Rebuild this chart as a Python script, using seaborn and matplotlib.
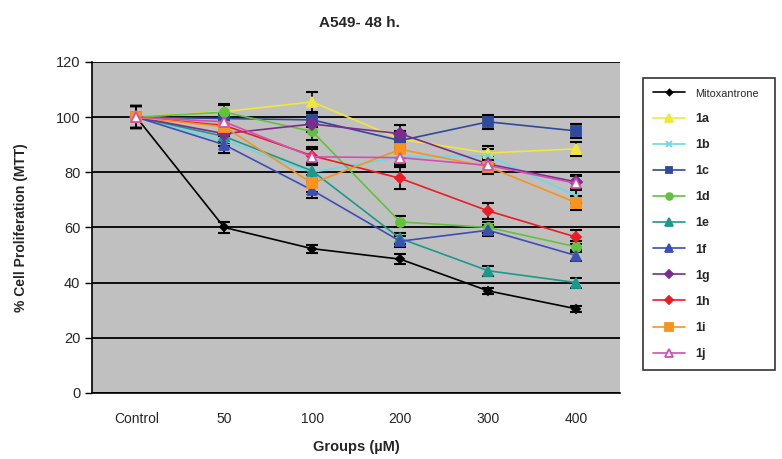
import numpy as np
import pandas as pd
import matplotlib
matplotlib.use("Agg")
import matplotlib.pyplot as plt
import seaborn as sns

groups = ["Control", "50", "100", "200", "300", "400"]

names = ["Mitoxantrone", "1a", "1b", "1c", "1d", "1e", "1f", "1g", "1h", "1i", "1j"]

mito = [100, 60, 52.3, 48.5, 37, 30.5]
c1a = [100, 102, 105.5, 92, 87, 88.5]
c1b = [100, 91.5, 80, 85.5, 86, 71.5]
c1c = [100, 99.5, 99, 91.5, 98.3, 95]
c1d = [100, 101.8, 94.8, 62, 60, 53]
c1e = [100, 93, 80.5, 56, 44.3, 40]
c1f = [100, 90, 73.5, 55, 59, 49.8]
c1g = [100, 94, 97.5, 94, 83, 76.5]
c1h = [100, 97, 86, 77.8, 66, 56.5]
c1i = [100, 96.5, 76, 88.3, 82, 69]
c1j = [100, 98.3, 85.6, 85.3, 82.5, 76]

err_mito = [4, 2, 1.5, 1.8, 1.2, 1]
err_1a = [4, 2.5, 3.5, 3, 2.5, 2.5]
err_1b = [4, 2, 3, 2.5, 2.5, 2.5]
err_1c = [4, 2, 2.5, 2.5, 2.5, 2.5]
err_1d = [4, 3, 3, 2, 2, 2]
err_1e = [4, 2.5, 3, 2, 1.8, 1.8]
err_1f = [4, 3, 3, 2, 2, 2]
err_1g = [4, 3, 3, 3, 2.5, 2.5]
err_1h = [4, 3, 3, 4, 3, 2.5]
err_1i = [4, 3, 3, 3, 2.5, 2.5]
err_1j = [4, 3, 3, 3, 2.5, 2.5]

values = [mito, c1a, c1b, c1c, c1d, c1e, c1f, c1g, c1h, c1i, c1j]
errors = [err_mito, err_1a, err_1b, err_1c, err_1d, err_1e, err_1f, err_1g, err_1h, err_1i, err_1j]

colors = ["#000000", "#f2e63a", "#6fd6e6", "#2f4a9c", "#62c23e", "#1b9a8c",
          "#3b50b2", "#7b2c8c", "#ec1c24", "#f7931e", "#d24fb2"]
markers = ["D", "^", "x", "s", "o", "^", "^", "D", "D", "s", "^"]
msizes = [4, 7, 5, 6.5, 6.5, 7, 7, 6, 5, 7, 7]

sns.set_style("white")
plt.rcParams["font.family"] = ["Liberation Sans", "DejaVu Sans"]

fig = plt.figure(figsize=(7.82, 4.59), dpi=100)
ax = fig.add_axes([0.118, 0.144, 0.675, 0.721])
ax.set_facecolor("#c0c0c0")

for name, vals, err, col, mk, ms in zip(names, values, errors, colors, markers, msizes):
    ax.errorbar(groups, vals, yerr=err, fmt="none", ecolor="black",
                elinewidth=1.2, capsize=4, capthick=1.5, zorder=2)
    face = "white" if name == "1j" else col
    sns.lineplot(x=groups, y=vals, ax=ax, color=col, marker=mk, markersize=ms,
                 markerfacecolor=face, markeredgecolor=col, markeredgewidth=1.3,
                 linewidth=1.2, label=name, sort=False, zorder=3)

ax.set_ylim(0, 120)
ax.set_xlim(-0.5, 5.5)
ax.set_yticks(np.arange(0, 121, 20))
ax.yaxis.grid(True, color="black", linewidth=1.3)
ax.set_axisbelow(True)
for s in ["top", "right"]:
    ax.spines[s].set_visible(False)
ax.spines["left"].set_color("black")
ax.spines["bottom"].set_color("black")
ax.spines["left"].set_linewidth(1.2)
ax.spines["bottom"].set_linewidth(1.2)

ax.set_xticks(range(len(groups)))
ax.set_xticklabels(groups, fontsize=10)
ax.set_xticks(np.arange(-0.5, 6, 1), minor=True)
ax.tick_params(axis="x", which="major", length=0, pad=14)
ax.tick_params(axis="x", which="minor", length=5, width=1, color="black", direction="out")
ax.tick_params(axis="y", length=5, width=1, color="black", direction="out", labelsize=10.5, left=True)

ax.set_xlabel("Groups (µM)", fontsize=10.5, fontweight="bold", labelpad=10)
ax.set_ylabel("% Cell Proliferation (MTT)", fontsize=10, fontweight="bold", labelpad=20)
fig.text(0.46, 0.95, "A549- 48 h.", ha="center", va="center", fontsize=11, fontweight="bold")

handles, labels = ax.get_legend_handles_labels()
ax.get_legend().remove()
leg = fig.legend(handles, labels, loc="upper left", bbox_to_anchor=(0.822, 0.194, 0.169, 0.636),
                 mode="expand", frameon=True, fancybox=False, edgecolor="black", fontsize=9,
                 labelspacing=1.13, handlelength=2.6, borderpad=0.8, borderaxespad=0,
                 markerscale=0.75)
leg.get_frame().set_linewidth(1.2)
for t in leg.get_texts():
    if t.get_text() == "Mitoxantrone":
        t.set_fontsize(7.8)
    else:
        t.set_fontweight("bold")

fig.savefig("out.png", dpi=100)
